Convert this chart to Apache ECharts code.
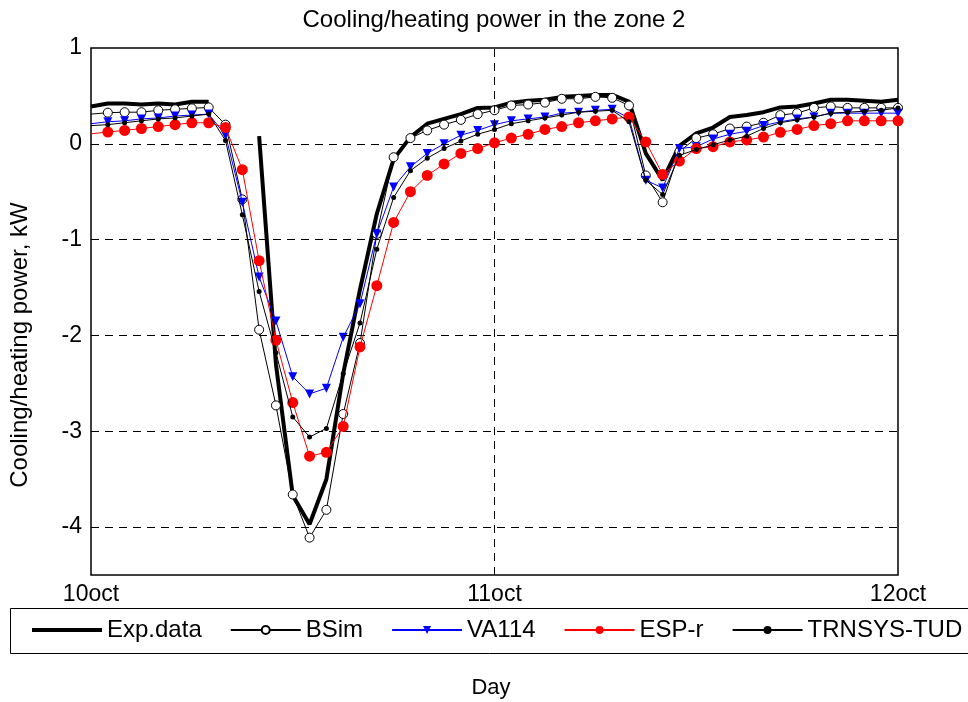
<!DOCTYPE html>
<html>
<head>
<meta charset="utf-8">
<script src="https://cdn.jsdelivr.net/npm/echarts@6/dist/echarts.min.js"></script>
<style>html,body{margin:0;padding:0;background:#fff;}#c{width:968px;height:702px;}</style>
</head>
<body>
<div id="c"></div>
<script>
const hours = [0,1,2,3,4,5,6,7,8,9,10,11,12,13,14,15,16,17,18,19,20,21,22,23,24,25,26,27,28,29,30,31,32,33,34,35,36,37,38,39,40,41,42,43,44,45,46,47,48];
const xTickLabels = ['10oct', '11oct', '12oct'];
const yTickValues = [1, 0, -1, -2, -3, -4];
const gridYValues = [0, -1, -2, -3, -4];
const gridXValues = [24];

const expData = [0.39,0.42,0.42,0.41,0.42,0.41,0.44,0.44,null,null,0.08,-2.3,-3.67,-3.97,-3.5,-2.40,-1.52,-0.73,-0.16,0.07,0.21,0.26,0.31,0.375,0.38,0.43,0.45,0.46,0.49,0.50,0.51,0.51,0.44,-0.10,-0.38,-0.02,0.11,0.17,0.28,0.30,0.33,0.38,0.39,0.42,0.46,0.46,0.45,0.44,0.46];
const bsim = [0.31,0.325,0.33,0.33,0.35,0.36,0.37,0.38,0.20,-0.58,-1.94,-2.73,-3.66,-4.11,-3.82,-2.82,-2.08,-0.94,-0.14,0.06,0.14,0.20,0.25,0.31,0.35,0.40,0.41,0.43,0.47,0.47,0.49,0.48,0.40,-0.33,-0.61,-0.08,0.06,0.10,0.16,0.18,0.22,0.30,0.32,0.375,0.39,0.375,0.375,0.375,0.375];
const va114 = [0.21,0.23,0.24,0.26,0.27,0.29,0.30,0.31,0.09,-0.61,-1.39,-1.85,-2.43,-2.61,-2.55,-2.02,-1.67,-0.94,-0.45,-0.24,-0.10,0.0,0.09,0.14,0.20,0.24,0.26,0.28,0.32,0.33,0.35,0.36,0.27,-0.38,-0.46,-0.05,-0.03,0.05,0.10,0.13,0.19,0.23,0.26,0.28,0.32,0.32,0.32,0.32,0.32];
const espr = [0.105,0.123,0.14,0.16,0.18,0.20,0.22,0.22,0.17,-0.27,-1.22,-2.05,-2.70,-3.26,-3.22,-2.95,-2.12,-1.48,-0.82,-0.50,-0.33,-0.21,-0.10,-0.05,0.01,0.06,0.10,0.15,0.18,0.22,0.24,0.26,0.28,0.02,-0.32,-0.18,-0.05,-0.03,0.02,0.04,0.07,0.12,0.15,0.19,0.21,0.24,0.24,0.24,0.24];
const trnsys = [0.19,0.20,0.22,0.24,0.26,0.27,0.29,0.31,0.035,-0.74,-1.54,-2.18,-2.85,-3.06,-2.97,-2.40,-1.87,-1.10,-0.56,-0.28,-0.15,-0.05,0.03,0.10,0.15,0.21,0.24,0.27,0.30,0.33,0.34,0.35,0.23,-0.38,-0.53,-0.12,-0.06,-0.01,0.04,0.08,0.16,0.22,0.25,0.28,0.32,0.33,0.34,0.35,0.375];

const FONT = "'Liberation Sans', Arial, sans-serif";
// first point sits on the axis and carries no marker in the original
const pair = arr => hours.map((h, i) => (i === 0 ? {value: [h, arr[i]], symbol: 'none'} : [h, arr[i]]));

const chart = echarts.init(document.getElementById('c'), null, {renderer: 'canvas'});
const gridLines = gridYValues.map(v => ({yAxis: v})).concat(gridXValues.map(v => ({xAxis: v})));

chart.setOption({
  animation: false,
  backgroundColor: '#fff',
  grid: {left: 91, top: 48, right: 70, bottom: 127, show: true, borderColor: '#000', borderWidth: 1.5, backgroundColor: 'transparent'},
  xAxis: {
    type: 'value', min: 0, max: 48, interval: 24,
    axisLine: {show: false}, axisTick: {show: false}, splitLine: {show: false},
    axisLabel: {fontFamily: FONT, fontSize: 23, color: '#000', margin: 8,
      formatter: v => xTickLabels[Math.round(v / 24)] || ''}
  },
  yAxis: {
    type: 'value', min: -4.5, max: 1, interval: 0.5,
    axisLine: {show: false}, axisTick: {show: false}, splitLine: {show: false},
    axisLabel: {fontFamily: FONT, fontSize: 23, color: '#000', margin: 9,
      formatter: v => (yTickValues.indexOf(v) >= 0 ? String(v) : '')}
  },
  legend: {
    data: [
      {name: 'Exp.data', icon: 'path://M0,0 L70,0 L70,4 L0,4 Z', itemStyle: {color: '#000'}},
      'BSim', 'VA114', 'ESP-r', 'TRNSYS-TUD'
    ],
    left: 32, top: 618, itemWidth: 70, itemHeight: 10, itemGap: 28,
    textStyle: {fontFamily: FONT, fontSize: 24, color: '#000'},
    padding: 0
  },
  graphic: [
    {type: 'text', x: 494, y: 20, style: {text: 'Cooling/heating power in the zone 2', font: '24px ' + FONT, fill: '#000', textAlign: 'center', textVerticalAlign: 'middle'}},
    {type: 'text', x: 8, y: 345, rotation: Math.PI / 2, style: {text: 'Cooling/heating power, kW', font: '24px ' + FONT, fill: '#000', textAlign: 'center', textVerticalAlign: 'top'}},
    {type: 'text', x: 491, y: 688, style: {text: 'Day', font: '22px ' + FONT, fill: '#000', textAlign: 'center', textVerticalAlign: 'middle'}},
    {type: 'rect', shape: {x: 10.5, y: 608.5, width: 980, height: 45}, style: {fill: 'none', stroke: '#000', lineWidth: 1}}
  ],
  series: [
    {name: '_grid', type: 'line', data: [], z: 1, silent: true,
      markLine: {silent: true, symbol: ['none', 'none'], label: {show: false},
        lineStyle: {color: '#000', type: [8, 6], width: 1}, data: gridLines}},
    {name: 'Exp.data', type: 'line', data: pair(expData), z: 2, showSymbol: false, symbol: 'none',
      lineStyle: {color: '#000', width: 4}, itemStyle: {color: '#000'}, connectNulls: false},
    {name: 'BSim', type: 'line', data: pair(bsim), z: 3, symbol: 'circle', symbolSize: 9,
      lineStyle: {color: '#000', width: 1}, itemStyle: {color: '#fff', borderColor: '#000', borderWidth: 1}},
    {name: 'VA114', type: 'line', data: pair(va114), z: 4, symbol: 'triangle', symbolRotate: 180, symbolSize: 9,
      lineStyle: {color: '#0000ff', width: 1}, itemStyle: {color: '#0000ff'}},
    {name: 'ESP-r', type: 'line', data: pair(espr), z: 5, symbol: 'circle', symbolSize: 11,
      lineStyle: {color: '#ff0000', width: 1}, itemStyle: {color: '#ff0000'}},
    {name: 'TRNSYS-TUD', type: 'line', data: pair(trnsys), z: 6, symbol: 'circle', symbolSize: 5,
      lineStyle: {color: '#000', width: 1}, itemStyle: {color: '#000'}}
  ]
});
</script>
</body>
</html>
